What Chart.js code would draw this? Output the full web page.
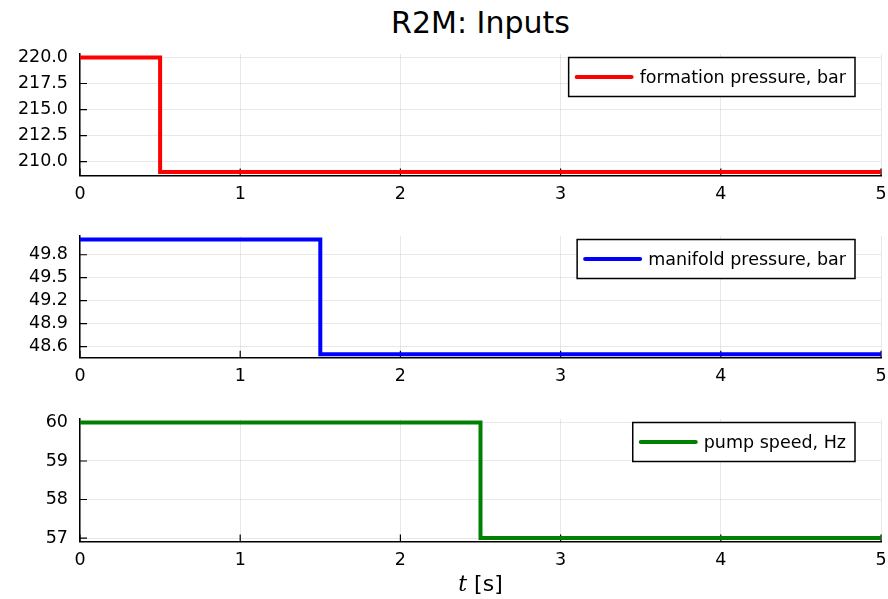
<!DOCTYPE html>
<html>
<head>
<meta charset="utf-8">
<title>R2M: Inputs</title>
<script src="https://cdn.jsdelivr.net/npm/chart.js@4/dist/chart.umd.min.js"></script>
<style>
  body { margin: 0; background: #fff; width: 888px; height: 599px; position: relative; overflow: hidden; font-family: "DejaVu Sans", sans-serif; color: #000; }
  canvas { position: absolute; left: 0; }
  #title { position: absolute; left: 80px; width: 801px; top: 4.6px; text-align: center; font-size: 30px; line-height: 36px; }
  #xlabel { position: absolute; left: 80px; width: 801px; top: 571px; text-align: center; font-size: 22px; line-height: 26px; }
  #xlabel i { font-family: "DejaVu Serif", serif; }
</style>
</head>
<body>
<div id="title">R2M: Inputs</div>
<canvas id="formation" width="888" height="200" style="top:0px"></canvas>
<canvas id="manifold" width="888" height="182" style="top:200px"></canvas>
<canvas id="pump" width="888" height="217" style="top:382px"></canvas>
<div id="xlabel"><i>t</i> [s]</div>
<script>
const timeTicks = [0, 1, 2, 3, 4, 5];

const formationTime = [0, 0.5, 5];
const formationPressure = [220, 209, 209];
const formationTicks = [210, 212.5, 215, 217.5, 220];

const manifoldTime = [0, 1.5, 5];
const manifoldPressure = [50, 48.5, 48.5];
const manifoldTicks = [48.6, 48.9, 49.2, 49.5, 49.8];

const pumpTime = [0, 2.5, 5];
const pumpSpeed = [60, 57, 57];
const pumpTicks = [57, 58, 59, 60];

Chart.defaults.font.family = '"DejaVu Sans", sans-serif';
Chart.defaults.font.size = 17.5;
Chart.defaults.color = '#000';

const font = { family: '"DejaVu Sans", sans-serif', size: 17.5 };

// short tick marks pointing into the plot from the left and bottom axes
const innerTicks = {
    id: 'innerTicks',
    beforeDatasetsDraw(chart) {
        const { ctx, chartArea: a, scales: { x, y } } = chart;
        ctx.save();
        ctx.strokeStyle = '#000';
        ctx.lineWidth = 1.2;
        ctx.beginPath();
        y.ticks.forEach((t) => {
            const py = y.getPixelForValue(t.value);
            ctx.moveTo(a.left, py);
            ctx.lineTo(a.left + 7, py);
        });
        x.ticks.forEach((t) => {
            const px = x.getPixelForValue(t.value);
            ctx.moveTo(px, a.bottom);
            ctx.lineTo(px, a.bottom - 7);
        });
        ctx.stroke();
        ctx.restore();
    }
};

// framed legend in the top right corner of the plot
const boxLegend = {
    id: 'boxLegend',
    afterDraw(chart) {
        const ds = chart.data.datasets[0];
        const a = chart.chartArea;
        const ctx = chart.ctx;
        ctx.save();
        ctx.font = '17.5px "DejaVu Sans"';
        const textW = ctx.measureText(ds.label).width;
        const w = 7 + 57 + 7 + textW + 9;
        const h = 39;
        const x = a.right - 26 - w;
        const y = a.top + 3.5;
        ctx.fillStyle = '#fff';
        ctx.fillRect(x, y, w, h);
        ctx.strokeStyle = '#000';
        ctx.lineWidth = 1.5;
        ctx.strokeRect(x, y, w, h);
        ctx.strokeStyle = ds.borderColor;
        ctx.lineWidth = ds.borderWidth;
        ctx.lineCap = 'round';
        ctx.beginPath();
        ctx.moveTo(x + 8, y + h / 2);
        ctx.lineTo(x + 63, y + h / 2);
        ctx.stroke();
        ctx.fillStyle = '#000';
        ctx.textBaseline = 'middle';
        ctx.fillText(ds.label, x + 71, y + h / 2 + 1);
        ctx.restore();
    }
};

function makePanel(id, label, color, times, values, yTicks, decimals, areaTop, xAxisHeight) {
    const lo = Math.min(...values);
    const hi = Math.max(...values);
    const pad = (hi - lo) * 0.03;
    return new Chart(document.getElementById(id), {
        type: 'line',
        data: {
            datasets: [{
                label: label,
                data: times.map((t, i) => ({ x: t, y: values[i] })),
                borderColor: color,
                borderWidth: 4,
                stepped: 'before',
                pointRadius: 0,
                fill: false
            }]
        },
        options: {
            responsive: false,
            animation: false,
            layout: { padding: { top: areaTop, right: 7, left: 0, bottom: 0 } },
            plugins: { legend: { display: false }, tooltip: { enabled: false } },
            scales: {
                x: {
                    type: 'linear',
                    min: 0,
                    max: 5,
                    afterBuildTicks: (s) => { s.ticks = timeTicks.map((v) => ({ value: v })); },
                    afterFit: (s) => {
                        s.height = xAxisHeight;
                        s.paddingLeft = 0;
                        s.paddingRight = 0;
                    },
                    ticks: { padding: 8, color: '#000', font: font, maxRotation: 0, callback: (v) => String(v) },
                    grid: { color: 'rgba(0,0,0,0.09)', drawTicks: false },
                    border: { color: '#000', width: 1.5 }
                },
                y: {
                    min: lo - pad,
                    max: hi + pad,
                    afterBuildTicks: (s) => { s.ticks = yTicks.map((v) => ({ value: v })); },
                    afterFit: (s) => {
                        s.width = 80;
                        s.paddingTop = 0;
                        s.paddingBottom = 0;
                    },
                    ticks: { padding: 12, color: '#000', font: font, callback: (v) => v.toFixed(decimals) },
                    grid: { color: 'rgba(0,0,0,0.09)', drawTicks: false },
                    border: { color: '#000', width: 1.5 }
                }
            }
        },
        plugins: [innerTicks, boxLegend]
    });
}

makePanel('formation', 'formation pressure, bar', '#ff0000', formationTime, formationPressure, formationTicks, 1, 54, 24.5);
makePanel('manifold', 'manifold pressure, bar', '#0000ff', manifoldTime, manifoldPressure, manifoldTicks, 1, 36, 24.3);
makePanel('pump', 'pump speed, Hz', '#008000', pumpTime, pumpSpeed, pumpTicks, 0, 37, 57.5);
</script>
</body>
</html>
